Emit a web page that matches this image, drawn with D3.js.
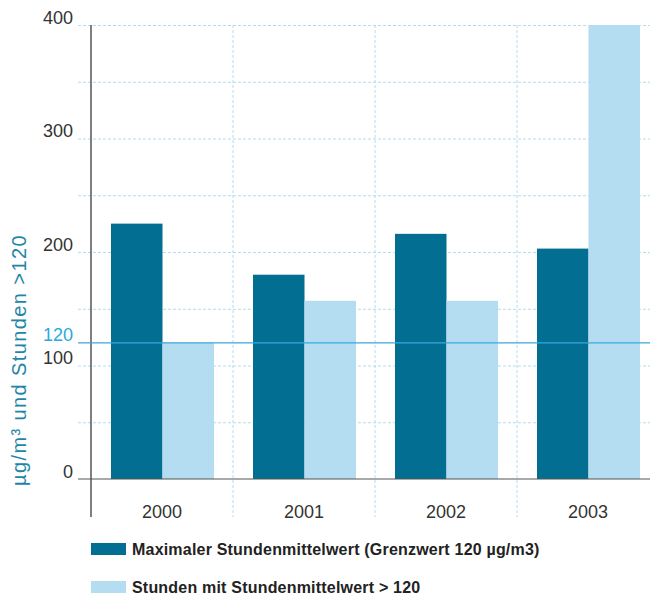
<!DOCTYPE html>
<head>
  <meta charset="utf-8">
  <style>
    body { margin: 0; background: #fff; font-family: "Liberation Sans", Arial, sans-serif; }
  </style>
</head>
<svg width="650" height="595"></svg>
<script src="https://d3js.org/d3.v7.min.js"></script>
<script>
  // data
  const years = ["2000", "2001", "2002", "2003"];
  const maxWert = [225, 180, 216, 203];      // Maximaler Stundenmittelwert
  const stunden = [120, 157, 157, 400];      // Stunden mit Stundenmittelwert > 120
  const yTicks = [0, 100, 200, 300, 400];
  const grenzwert = 120;
  const seriesNames = ["Maximaler Stundenmittelwert (Grenzwert 120 µg/m3)", "Stunden mit Stundenmittelwert > 120"];
  const colors = ["#026f92", "#b4ddf1"];

  const svg = d3.select("svg");

  const x = d3.scaleBand().domain(years).range([91, 659]);
  const xs = d3.scaleBand().domain([0, 1]).range([20, 123]);
  const y = d3.scaleLinear().domain([0, 400]).range([479, 25]);

  // horizontal grid
  svg.append("g")
    .attr("transform", "translate(78,0)")
    .call(d3.axisLeft(y).tickValues(d3.range(50, 401, 50)).tickSize(-572).tickFormat(""))
    .call(g => g.select(".domain").remove())
    .selectAll("line")
    .attr("stroke", "#b3dcf0")
    .attr("stroke-dasharray", "3,2");

  // vertical grid between years
  svg.append("g")
    .selectAll("line")
    .data(years.slice(1))
    .enter().append("line")
    .attr("x1", d => x(d)).attr("x2", d => x(d))
    .attr("y1", 25).attr("y2", 517)
    .attr("stroke", "#b3dcf0")
    .attr("stroke-dasharray", "3,2");

  // bars
  const data = years.map((yr, i) => ({ year: yr, vals: [maxWert[i], stunden[i]] }));
  const grp = svg.append("g").selectAll("g")
    .data(data)
    .enter().append("g")
    .attr("transform", d => "translate(" + x(d.year) + ",0)");
  grp.selectAll("rect")
    .data(d => d.vals)
    .enter().append("rect")
    .attr("x", (d, i) => xs(i))
    .attr("width", xs.bandwidth())
    .attr("y", d => y(d))
    .attr("height", d => y(0) - y(d))
    .attr("fill", (d, i) => colors[i]);

  // zero line + y axis line
  svg.append("line")
    .attr("x1", 78).attr("x2", 650)
    .attr("y1", y(0)).attr("y2", y(0))
    .attr("stroke", "#555").attr("stroke-width", 1.2);
  svg.append("line")
    .attr("x1", 91).attr("x2", 91)
    .attr("y1", y(400)).attr("y2", 517)
    .attr("stroke", "#555").attr("stroke-width", 1.5);

  // y tick labels
  const yAxis = svg.append("g")
    .attr("transform", "translate(73,0)")
    .call(d3.axisLeft(y).tickValues(yTicks).tickSize(0).tickPadding(0));
  yAxis.select(".domain").remove();
  yAxis.selectAll("text")
    .attr("dy", "-0.1em")
    .attr("fill", "#333")
    .style("font-size", "18px")
    .style("font-family", "Liberation Sans, Arial, sans-serif");

  // limit line 120
  svg.append("line")
    .attr("x1", 78).attr("x2", 650)
    .attr("y1", y(grenzwert)).attr("y2", y(grenzwert))
    .attr("stroke", "#3aa7da").attr("stroke-width", 1.3);
  svg.append("text")
    .attr("x", 73).attr("y", y(grenzwert) - 2)
    .attr("text-anchor", "end")
    .attr("fill", "#2aa9e0")
    .style("font-size", "18px")
    .text(grenzwert);

  // x labels
  const xAxis = svg.append("g")
    .attr("transform", "translate(0,518)")
    .call(d3.axisBottom(x).tickSize(0).tickPadding(0));
  xAxis.select(".domain").remove();
  xAxis.selectAll("text")
    .attr("dy", "0")
    .attr("fill", "#333")
    .style("font-size", "18px")
    .style("font-family", "Liberation Sans, Arial, sans-serif");

  // y title
  svg.append("text")
    .attr("transform", "translate(26,360) rotate(-90)")
    .attr("text-anchor", "middle")
    .attr("fill", "#1f86a8")
    .style("font-size", "20px")
    .style("letter-spacing", "1.4px")
    .text("µg/m³ und Stunden >120");

  // legend
  const leg = svg.append("g").selectAll("g")
    .data(seriesNames)
    .enter().append("g")
    .attr("transform", (d, i) => "translate(91," + (543 + i * 38) + ")");
  leg.append("rect")
    .attr("width", 35).attr("height", 12)
    .attr("fill", (d, i) => colors[i]);
  leg.append("text")
    .attr("x", 41).attr("y", 12)
    .attr("fill", "#222")
    .style("font-size", "16px")
    .style("font-weight", "bold")
    .style("letter-spacing", "0.2px")
    .text(d => d);
</script>
